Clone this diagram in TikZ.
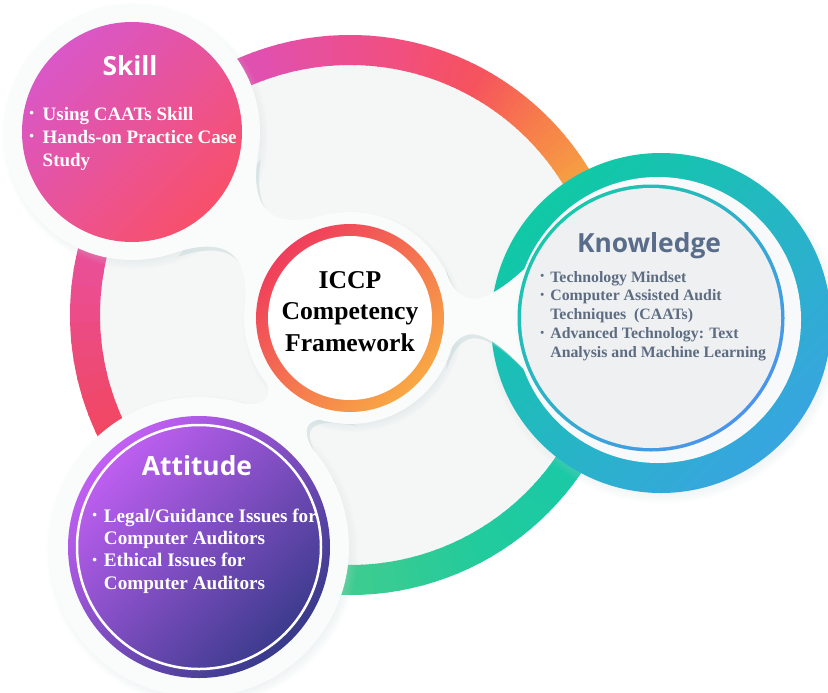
\documentclass[tikz,border=0pt]{standalone}
\usepackage{fontspec}
\setmainfont{Liberation Serif}
\newfontfamily\headfont{Open Sans}
\usetikzlibrary{shadows,fadings}

\definecolor{fieldc}{HTML}{F5F6F6}
\definecolor{haloc}{HTML}{FAFBFB}
\definecolor{shadowc}{HTML}{C3D5D7}
\definecolor{rgA}{HTML}{F6A242}
\definecolor{rgB}{HTML}{F77A4C}
\definecolor{rgC}{HTML}{F6525E}
\definecolor{rgD}{HTML}{F24F7C}
\definecolor{rgE}{HTML}{E050B0}
\definecolor{rgF}{HTML}{EA4E96}
\definecolor{rgG}{HTML}{F24552}
\definecolor{rgH}{HTML}{18C8A8}
\definecolor{rgI}{HTML}{21CB9D}
\definecolor{rgJ}{HTML}{3FCC8F}
\definecolor{rgK}{HTML}{72D07B}
\definecolor{skA}{HTML}{D957C8}
\definecolor{skB}{HTML}{F8506A}
\definecolor{atA}{HTML}{C260F4}
\definecolor{atB}{HTML}{383A8A}
\definecolor{knA}{HTML}{10C9A5}
\definecolor{knB}{HTML}{38A5E0}
\definecolor{kiA}{HTML}{19C7AB}
\definecolor{kiB}{HTML}{4A94EE}
\definecolor{kgap}{HTML}{F8F9FA}
\definecolor{kin}{HTML}{EEF0F2}
\definecolor{ceA}{HTML}{F03E5C}
\definecolor{ceB}{HTML}{F8A844}
\definecolor{kntext}{HTML}{5E6C82}
\definecolor{kntitle}{HTML}{596C89}

\newcommand{\bul}{\raisebox{.3ex}{\scalebox{.7}{\textbullet}}}

\tikzset{
  ringpart/.style={line width=6mm},
  halo/.style={fill=haloc},
  haloshadow/.style={circular drop shadow={shadow xshift=.5mm, shadow yshift=-.7mm, shadow scale=1.04, fill=shadowc, opacity=.55}},
  cornerfill/.style 2 args={top color=#1, bottom color=#2, shading angle=45},
  head/.style={anchor=base, inner sep=0pt, font=\headfont\bfseries\fontsize{15}{18}\selectfont},
  list/.style 2 args={anchor=base west, inner sep=0pt, font=\bfseries\fontsize{#1}{#2}\selectfont},
}

\begin{document}
\begin{tikzpicture}[x=0.2mm, y=-0.2mm]
	\useasboundingbox (0,0) rectangle (828,692);
	\clip (0,0) rectangle (828,692);
	\fill[white] (0,0) rectangle (828,692);
	\coordinate (rc) at (350,315);
	\coordinate (sk) at (132,132);
	\coordinate (ce) at (350,318);
	\coordinate (at) at (199,547);
	\coordinate (kn) at (661,323);
	\coordinate (kg) at (658,320);
	\coordinate (ki) at (651,318);

	\fill[fieldc] (rc) circle[radius=250];
	\foreach \sa/\sb/\ca/\cb in {120/90/rgK/rgJ, 90/60/rgJ/rgI, 60/30/rgI/rgH, 30/-30/rgH/rgA,
	    -30/-47/rgA/rgB, -47/-62/rgB/rgC, -62/-78/rgC/rgD, -78/-110/rgD/rgE,
	    -110/-170/rgE/rgF, -170/-216/rgF/rgG}{
	  \foreach \k in {0,...,11}{
	    \pgfmathsetmacro\angA{\sa+(\sb-\sa)*\k/12}
	    \pgfmathsetmacro\angB{\sa+(\sb-\sa)*(\k+1.15)/12}
	    \pgfmathtruncatemacro\mix{100-100*(\k+0.5)/12}
	    \draw[ringpart, draw=\ca!\mix!\cb] (rc) ++(\angA:265) arc[start angle=\angA, end angle=\angB, radius=265];
	  }
	}

	\shade[haloshadow, cornerfill={knA}{knB}] (kn) circle[radius=170];

	\begin{scope}[shift={(3,4)}]
		\fill[shadowc, opacity=.45] (174.9,252.7) .. controls (227.8,235.5) and (250.6,254.9) .. (244.5,308.0)
		  -- (323.5,215.4) .. controls (272.0,229.7) and (249.2,210.3) .. (257.9,155.3) -- cycle;
		\fill[shadowc, opacity=.45] (251.6,355.4) .. controls (281.9,400.5) and (273.2,413.9) .. (207.3,397.3)
		  -- (332.9,479.3) .. controls (291.2,425.7) and (299.9,412.3) .. (353.4,422.0) -- cycle;
		\fill[shadowc, opacity=.45] (443.6,266.2) .. controls (458,310.2) and (482,310.2) .. (533.1,260.8)
		  -- (533.1,379.2) .. controls (482,321.8) and (458,321.8) .. (443.6,365.8) -- cycle;
	\end{scope}
	\path[haloshadow] (sk) circle[radius=128];
	\path[haloshadow] (ce) circle[radius=106];
	\path[haloshadow] (at) circle[radius=150];

	\fill[halo] (sk) circle[radius=128];
	\fill[halo] (ce) circle[radius=106];
	\fill[halo] (at) circle[radius=150];
	\fill[halo] (174.9,252.7) .. controls (227.8,235.5) and (250.6,254.9) .. (244.5,308.0)
	  -- (323.5,215.4) .. controls (272.0,229.7) and (249.2,210.3) .. (257.9,155.3) -- cycle;
	\fill[halo] (251.6,355.4) .. controls (281.9,400.5) and (273.2,413.9) .. (207.3,397.3)
	  -- (332.9,479.3) .. controls (291.2,425.7) and (299.9,412.3) .. (353.4,422.0) -- cycle;
	\fill[halo] (443.6,266.2) .. controls (458,310.2) and (482,310.2) .. (533.1,260.8)
	  -- (533.1,379.2) .. controls (482,321.8) and (458,321.8) .. (443.6,365.8) -- cycle;

	\fill[kgap] (kg) circle[radius=143];
	\shade[cornerfill={kiA}{kiB}] (ki) circle[radius=133.5];
	\fill[kin] (ki) circle[radius=130];

	\shade[cornerfill={skA}{skB}] (sk) circle[radius=110];
	\shade[cornerfill={atA}{atB}] (at) circle[radius=131];
	\draw[white, line width=.5mm] (at) circle[radius=122];
	\shade[cornerfill={ceA}{ceB}] (ce) circle[radius=94];
	\fill[white] (ce) circle[radius=82];

	\node[head, text=white] (skillT) at (130,75) {Skill};
	\node[list={10.8}{13.3}, text=white] (skillL) at (29,120) {\begin{tabular}[t]{@{}p{7.6pt}@{}l@{}}
		\bul & Using CAATs Skill\\
		\bul & Hands-on Practice Case\\
		     & Study
		\end{tabular}};

	\node[head, text=kntitle] (knowT) at (649,252) {Knowledge};
	\node[list={9}{10.8}, text=kntext] (knowL) at (540,282) {\begin{tabular}[t]{@{}p{5.7pt}@{}l@{}}
		\bul & Technology Mindset\\
		\bul & Computer Assisted Audit\\
		     & Techniques\ \ (CAATs)\\
		\bul & Advanced Technology: Text\\
		     & Analysis and Machine Learning
		\end{tabular}};

	\node[head, text=white] (attT) at (197,475) {Attitude};
	\node[list={10.9}{12.8}, text=white] (attL) at (92,522) {\begin{tabular}[t]{@{}p{6.6pt}@{}l@{}}
		\bul & Legal/Guidance Issues for\\
		     & Computer Auditors\\
		\bul & Ethical Issues for\\
		     & Computer Auditors
		\end{tabular}};

	\node[anchor=base, inner sep=0pt, font=\bfseries\fontsize{14.6}{18.1}\selectfont] (coreT) at (350,288)
		{\begin{tabular}[t]{@{}c@{}}ICCP\\ Competency\\ Framework\end{tabular}};
\end{tikzpicture}
\end{document}
